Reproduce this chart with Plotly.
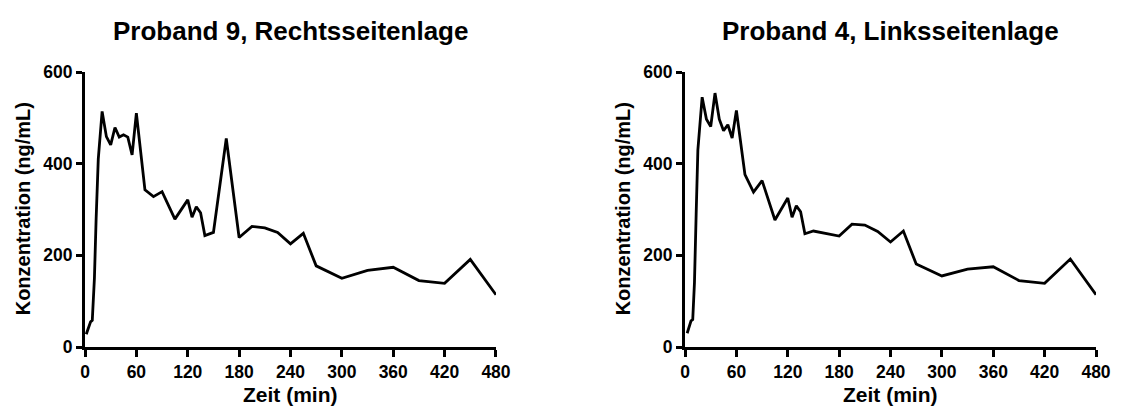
import plotly.graph_objects as go

# Proband 9, Rechtsseitenlage
t9 = [1.5, 6.5, 8.5, 11, 13, 15.5, 20, 25, 30, 35, 40, 45, 50, 55, 60, 70, 80, 90, 105, 120,
      125, 130, 135, 140, 150, 165, 180, 195, 210, 225, 240, 255, 270, 300, 330, 360, 390, 420, 450, 480]
c9 = [28, 55, 58, 150, 280, 410, 514, 459, 441, 479, 458, 463, 458, 419, 510, 343, 328, 339, 279, 321,
      283, 306, 293, 243, 250, 455, 239, 263, 260, 250, 225, 248, 177, 150, 167, 174, 145, 139, 191, 114]

# Proband 4, Linksseitenlage
t4 = [2.5, 7, 9, 11, 13, 15, 20, 25, 30, 35, 40, 45, 50, 55, 60, 70, 80, 90, 105, 120,
      125, 130, 135, 140, 150, 165, 180, 195, 210, 225, 240, 255, 270, 300, 330, 360, 390, 420, 450, 480]
c4 = [30, 57, 60, 140, 290, 430, 545, 497, 481, 554, 497, 472, 485, 456, 516, 376, 338, 363, 277, 325,
      283, 308, 295, 247, 253, 248, 242, 268, 266, 252, 229, 253, 181, 155, 170, 175, 145, 139, 192, 114]

x_ticks = [0, 60, 120, 180, 240, 300, 360, 420, 480]
y_ticks = [0, 200, 400, 600]
titles = ["Proband 9, Rechtsseitenlage", "Proband 4, Linksseitenlage"]
x_title = "Zeit (min)"
y_title = "Konzentration (ng/mL)"

FONT = "Liberation Sans, Arial, sans-serif"
OFF = 8  # page body margin offset
W, H = 1123 - OFF, 410 - OFF
# target pixel positions (in reference coordinates)
X0_L, X1_L, X0_R, X1_R = 85, 498, 688, 1101
Y_TOP, Y_BOT = 72, 347
ml = X0_L - OFF
mr = 1123 - X1_R
mt = Y_TOP - OFF
mb = 410 - Y_BOT
pw = W - ml - mr
ph = H - mt - mb

def px_x(p):
    return (p - OFF - ml) / pw

def px_y(p):
    return (H - mb - (p - OFF)) / ph

fig = go.Figure()
fig.add_trace(go.Scatter(x=t9, y=c9, mode="lines", line=dict(color="black", width=2.8),
                         xaxis="x", yaxis="y", showlegend=False))
fig.add_trace(go.Scatter(x=t4, y=c4, mode="lines", line=dict(color="black", width=2.8),
                         xaxis="x2", yaxis="y2", showlegend=False))

tickfont = dict(family=FONT, size=17.5, color="black", weight="bold")
common_x = dict(range=[0, 480], tickvals=x_ticks, ticktext=[f"<b>{v}</b>" for v in x_ticks],
                ticks="outside", ticklen=7, tickwidth=2.8,
                tickcolor="black", showline=True, linecolor="black", linewidth=3,
                showgrid=False, zeroline=False, tickfont=tickfont, fixedrange=True)
common_y = dict(range=[0, 600], tickvals=y_ticks, ticktext=[f"<b>{v}</b>" for v in y_ticks],
                ticks="outside", ticklen=6, tickwidth=2.8,
                tickcolor="black", showline=True, linecolor="black", linewidth=3,
                showgrid=False, zeroline=False, tickfont=tickfont, fixedrange=True)

left = [0, px_x(X1_L)]
right = [px_x(X0_R), 1]

fig.update_layout(
    width=W, height=H,
    margin=dict(l=ml, r=mr, t=mt, b=mb),
    paper_bgcolor="white", plot_bgcolor="white",
    xaxis=dict(domain=left, anchor="y", **common_x),
    yaxis=dict(domain=[0, 1], anchor="x", **common_y),
    xaxis2=dict(domain=right, anchor="y2", **common_x),
    yaxis2=dict(domain=[0, 1], anchor="x2", **common_y),
)

ann = []
centers = [(X0_L + X1_L) / 2, (X0_R + X1_R) / 2]
yaxis_px = [X0_L, X0_R]
for i in range(2):
    ann.append(dict(text=titles[i], x=px_x(centers[i]), y=px_y(31), xref="paper", yref="paper",
                    xanchor="center", yanchor="middle", showarrow=False,
                    font=dict(family=FONT, size=26, color="black", weight="bold")))
    ann.append(dict(text=x_title, x=px_x(centers[i]), y=px_y(394), xref="paper", yref="paper",
                    xanchor="center", yanchor="middle", showarrow=False,
                    font=dict(family=FONT, size=21, color="black", weight="bold")))
    ann.append(dict(text=y_title, x=px_x(yaxis_px[i] - 62), y=px_y(209), xref="paper", yref="paper",
                    xanchor="center", yanchor="middle", showarrow=False, textangle=-90,
                    font=dict(family=FONT, size=20, color="black", weight="bold")))
fig.update_layout(annotations=ann)

fig.write_html("out.html")
